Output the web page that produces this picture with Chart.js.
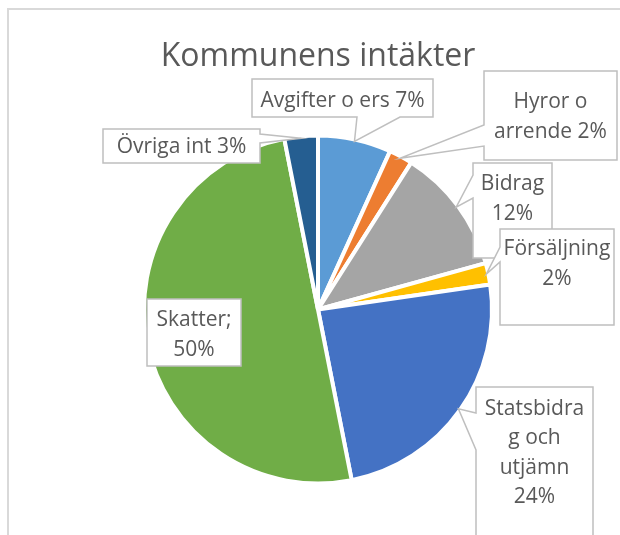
<!DOCTYPE html>
<html>
<head>
<meta charset="utf-8">
<script src="https://cdn.jsdelivr.net/npm/chart.js@4.4.1/dist/chart.umd.min.js"></script>
<style>
  html, body { margin: 0; padding: 0; background: #ffffff; }
  #wrap { width: 620px; height: 535px; position: relative; }
</style>
</head>
<body>
<div id="wrap"><canvas id="c" width="620" height="535"></canvas></div>
<script>
// ---- data ----
const categories = ['Avgifter o ers', 'Hyror o arrende', 'Bidrag', 'Försäljning', 'Statsbidrag och utjämn', 'Skatter', 'Övriga int'];
const shares = [6.8, 2.2, 11.7, 2.0, 24.2, 50.0, 3.1];
const sliceColors = ['#5B9BD5', '#ED7D31', '#A5A5A5', '#FFC000', '#4472C4', '#70AD47', '#255E91'];
const labelLines = [
  ['Avgifter o ers 7%'],
  ['Hyror o', 'arrende 2%'],
  ['Bidrag', '12%'],
  ['Försäljning', '2%'],
  ['Statsbidra', 'g och', 'utjämn', '24%'],
  ['Skatter;', '50%'],
  ['Övriga int 3%']
];
const chartTitle = 'Kommunens intäkter';

// ---- callout layout (boxes only; tips come from the arcs) ----
const calloutBoxes = [
  { x: 252, y: 79,  w: 181, h: 38,  ty: 101, side: 'bottom', a1: 357, a2: 400 },
  { x: 484, y: 71,  w: 133, h: 89,  ty: 117, side: 'left',   a1: 125, a2: 146 },
  { x: 473, y: 163, w: 79,  h: 95,  ty: 199, side: 'left',   a1: 175, a2: 198 },
  { x: 500, y: 229, w: 114, h: 96,  ty: 264, side: 'left',   a1: 247, a2: 262 },
  { x: 476, y: 387, w: 117, h: 170, ty: 453, side: 'left',   a1: 413, a2: 450 },
  { x: 147, y: 299, w: 94,  h: 67,  ty: 335, side: 'none' },
  { x: 103, y: 129, w: 157, h: 34,  ty: 147, side: 'right',  a1: 134, a2: 143 }
];
const drawOrder = [0, 1, 2, 3, 4, 5, 6];

const FONT = '"Open Sans", "DejaVu Sans", sans-serif';
const TEXT_COLOR = '#595959';

const framePlugin = {
  id: 'frame',
  beforeDraw(chart) {
    const ctx = chart.ctx;
    ctx.save();
    ctx.fillStyle = '#ffffff';
    ctx.fillRect(0, 0, chart.width, chart.height);
    ctx.strokeStyle = '#D9D9D9';
    ctx.lineWidth = 2;
    ctx.strokeRect(8, 9, 800, 800);
    ctx.restore();
  }
};

const calloutPlugin = {
  id: 'callouts',
  afterDatasetsDraw(chart) {
    const ctx = chart.ctx;
    const meta = chart.getDatasetMeta(0);
    const bw = chart.data.datasets[0].borderWidth;
    ctx.save();
    drawOrder.forEach(i => {
      const b = calloutBoxes[i];
      const arc = meta.data[i];
      const p = arc.getProps(['x', 'y', 'startAngle', 'endAngle', 'outerRadius'], true);
      const mid = (p.startAngle + p.endAngle) / 2;
      const r = p.outerRadius - bw / 2;
      const tx = p.x + Math.cos(mid) * r;
      const ty = p.y + Math.sin(mid) * r;
      const L = b.x, T = b.y, R = b.x + b.w, B = b.y + b.h;
      ctx.beginPath();
      ctx.moveTo(L, T);
      ctx.lineTo(R, T);
      if (b.side === 'right') { ctx.lineTo(R, b.a1); ctx.lineTo(tx, ty); ctx.lineTo(R, b.a2); }
      ctx.lineTo(R, B);
      if (b.side === 'bottom') { ctx.lineTo(b.a2, B); ctx.lineTo(tx, ty); ctx.lineTo(b.a1, B); }
      ctx.lineTo(L, B);
      if (b.side === 'left') { ctx.lineTo(L, b.a2); ctx.lineTo(tx, ty); ctx.lineTo(L, b.a1); }
      ctx.closePath();
      ctx.fillStyle = '#ffffff';
      ctx.fill();
      ctx.strokeStyle = '#BFBFBF';
      ctx.lineWidth = 1.5;
      ctx.lineJoin = 'miter';
      ctx.stroke();

      const lines = labelLines[i];
      const lh = 29.5;
      ctx.fillStyle = TEXT_COLOR;
      ctx.font = '21px ' + FONT;
      ctx.textAlign = 'center';
      ctx.textBaseline = 'middle';
      const cx = L + b.w / 2;
      const y0 = b.ty - (lines.length - 1) * lh / 2;
      lines.forEach((t, k) => ctx.fillText(t, cx, y0 + k * lh));
    });
    ctx.restore();
  }
};

new Chart(document.getElementById('c'), {
  type: 'pie',
  data: {
    labels: categories,
    datasets: [{
      data: shares,
      backgroundColor: sliceColors,
      borderColor: '#ffffff',
      borderWidth: 4,
      hoverBorderWidth: 4,
      hoverOffset: 0
    }]
  },
  options: {
    responsive: false,
    animation: false,
    devicePixelRatio: 1,
    radius: 174,
    rotation: 0,
    layout: { padding: { left: 100, right: 84, top: 0, bottom: 20 } },
    plugins: {
      legend: { display: false },
      tooltip: { enabled: false },
      title: {
        display: true,
        text: chartTitle,
        color: TEXT_COLOR,
        font: { family: FONT, size: 32, weight: 'normal' },
        padding: { top: 38, bottom: 27.6 }
      }
    }
  },
  plugins: [framePlugin, calloutPlugin]
});
</script>
</body>
</html>
